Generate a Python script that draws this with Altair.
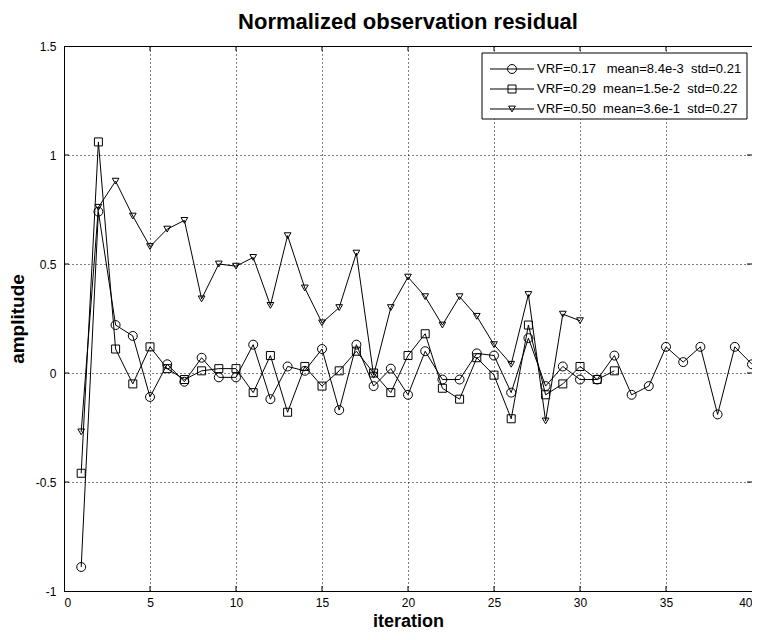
import altair as alt
import pandas as pd

# ---- data ----
vrf017 = [-0.89, 0.74, 0.22, 0.17, -0.11, 0.04, -0.04, 0.07, -0.02, -0.02,
          0.13, -0.12, 0.03, 0.01, 0.11, -0.17, 0.13, -0.06, 0.02, -0.10,
          0.10, -0.03, -0.03, 0.09, 0.08, -0.09, 0.16, -0.06, 0.03, -0.03,
          -0.03, 0.08, -0.10, -0.06, 0.12, 0.05, 0.12, -0.19, 0.12, 0.04]
vrf029 = [-0.46, 1.06, 0.11, -0.05, 0.12, 0.02, -0.03, 0.01, 0.02, 0.02,
          -0.09, 0.08, -0.18, 0.03, -0.06, 0.01, 0.10, 0.00, -0.09, 0.08,
          0.18, -0.07, -0.12, 0.07, -0.01, -0.21, 0.22, -0.10, -0.05, 0.03,
          -0.03, 0.01]
vrf050 = [-0.27, 0.76, 0.88, 0.72, 0.58, 0.66, 0.70, 0.34, 0.50, 0.49,
          0.53, 0.31, 0.63, 0.39, 0.23, 0.30, 0.55, -0.01, 0.30, 0.44,
          0.35, 0.22, 0.35, 0.26, 0.13, 0.04, 0.36, -0.22, 0.27, 0.24]

series_values = [vrf017, vrf029, vrf050]
series_shapes = ["circle", "square", "triangle-down"]
series_sizes = [80, 64, 45]
legend_labels = [
    "VRF=0.17\u00a0\u00a0\u00a0mean=8.4e-3\u00a0\u00a0std=0.21",
    "VRF=0.29\u00a0\u00a0mean=1.5e-2\u00a0\u00a0std=0.22",
    "VRF=0.50\u00a0\u00a0mean=3.6e-1\u00a0\u00a0std=0.27",
]
x_ticks = [0, 5, 10, 15, 20, 25, 30, 35, 40]
y_ticks = [-1, -0.5, 0, 0.5, 1, 1.5]

W, H = 688, 545
FONT = "Liberation Sans"

xs = alt.Scale(domain=[0, 40], nice=False, zero=False)
ys = alt.Scale(domain=[-1, 1.5], nice=False, zero=False)

x_axis = alt.Axis(values=x_ticks, title="iteration", grid=True, ticks=False,
                  domain=False, labelExpr="datum.value + ''", labelPadding=6,
                  titlePadding=4, titleFontSize=18)
y_axis = alt.Axis(values=y_ticks, title="amplitude", grid=True, ticks=False,
                  domain=False, labelExpr="datum.value + ''", labelPadding=8,
                  titlePadding=8, titleFontSize=19)


def X(field):
    return alt.X(field, scale=xs, axis=x_axis)


def Y(field):
    return alt.Y(field, scale=ys, axis=y_axis)


layers = []
for vals, shp, sz in zip(series_values, series_shapes, series_sizes):
    df = pd.DataFrame({"iteration": list(range(1, len(vals) + 1)), "amplitude": vals})
    base = alt.Chart(df)
    enc = dict(x=X("iteration:Q"), y=Y("amplitude:Q"))
    layers.append(base.mark_line(color="black", strokeWidth=1).encode(**enc))
    layers.append(base.mark_point(shape=shp, size=sz, filled=False, color="black",
                                  strokeWidth=1, opacity=1).encode(**enc))

# inward tick marks (MATLAB style)
xt = pd.DataFrame({"iteration": x_ticks[1:-1]})
yt = pd.DataFrame({"amplitude": y_ticks[1:-1]})
tick_len = 5
layers.append(alt.Chart(xt).mark_rule(color="black", strokeWidth=1).encode(
    x=X("iteration:Q"), y=alt.value(0), y2=alt.value(tick_len)))
layers.append(alt.Chart(xt).mark_rule(color="black", strokeWidth=1).encode(
    x=X("iteration:Q"), y=alt.value(H), y2=alt.value(H - tick_len)))
layers.append(alt.Chart(yt).mark_rule(color="black", strokeWidth=1).encode(
    y=Y("amplitude:Q"), x=alt.value(0), x2=alt.value(tick_len)))
layers.append(alt.Chart(yt).mark_rule(color="black", strokeWidth=1).encode(
    y=Y("amplitude:Q"), x=alt.value(W), x2=alt.value(W - tick_len)))

# legend box (drawn manually)
one = pd.DataFrame({"k": [0]})
lx0, lx1, ly0, ly1 = 418, 683, 7, 73
row_y = [23, 43, 63]
layers.append(alt.Chart(one).mark_rect(fill="white", stroke="black", strokeWidth=1).encode(
    x=alt.value(lx0), x2=alt.value(lx1), y=alt.value(ly0), y2=alt.value(ly1)))
for ry, shp, sz, lab in zip(row_y, series_shapes, series_sizes, legend_labels):
    layers.append(alt.Chart(one).mark_rule(color="black", strokeWidth=1).encode(
        x=alt.value(426), x2=alt.value(470), y=alt.value(ry)))
    layers.append(alt.Chart(one).mark_point(shape=shp, size=sz, filled=False, color="black",
                                            strokeWidth=1, opacity=1).encode(
        x=alt.value(448), y=alt.value(ry)))
    layers.append(alt.Chart(one).mark_text(text=lab, align="left", baseline="middle",
                                           font=FONT, fontSize=13, color="black").encode(
        x=alt.value(473), y=alt.value(ry)))

chart = alt.layer(*layers).properties(
    width=W, height=H,
    title=alt.TitleParams("Normalized observation residual", font=FONT, fontSize=22,
                          fontWeight="bold", color="black", anchor="middle", offset=6),
    autosize=alt.AutoSizeParams(type="none"),
    padding={"left": 56, "top": 38, "right": 0, "bottom": 40},
).configure_view(
    stroke="black", strokeWidth=1
).configure_axis(
    gridColor="black", gridDash=[1, 3], gridOpacity=1, gridWidth=1,
    labelFont=FONT, labelFontSize=12, labelColor="black",
    titleFont=FONT, titleFontWeight="bold", titleColor="black",
)

chart.save("out.html", embed_options={"renderer": "svg", "actions": False})
